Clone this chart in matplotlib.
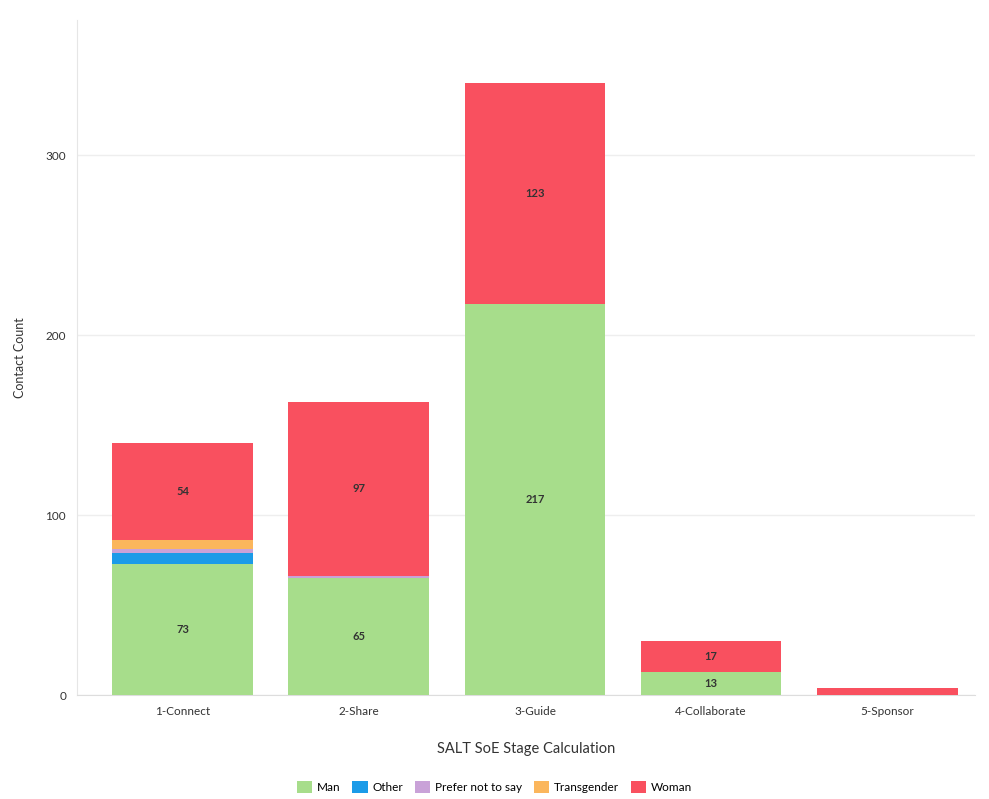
import matplotlib
matplotlib.use("Agg")
import matplotlib.pyplot as plt
import numpy as np

plt.rcParams['font.family'] = ['Lato', 'DejaVu Sans']

stages = ["1-Connect", "2-Share", "3-Guide", "4-Collaborate", "5-Sponsor"]
genders = ["Man", "Other", "Prefer not to say", "Transgender", "Woman"]
man = [73, 65, 217, 13, 0]
other = [6, 0, 0, 0, 0]
prefer_not = [2, 1, 0, 0, 0]
transgender = [5, 0, 0, 0, 0]
woman = [54, 97, 123, 17, 4]
colors = ["#a7dd8b", "#1b9be8", "#c9a2d8", "#fbb65c", "#f9505f"]

series = [man, other, prefer_not, transgender, woman]

fig = plt.figure(figsize=(9.89, 7.99), dpi=100)
ax = fig.add_axes([0.078, 0.130, 0.908, 0.845])

x = np.arange(len(stages))
bottom = np.zeros(len(stages))
for name, vals, col in zip(genders, series, colors):
    vals = np.array(vals, dtype=float)
    ax.bar(x, vals, width=0.8, bottom=bottom, color=col, label=name, zorder=3)
    # value labels only on the bigger segments
    for xi, v, b in zip(x, vals, bottom):
        if v >= 10:
            ax.text(xi, b + v / 2, f"{int(v)}", ha="center", va="center",
                    fontsize=8, color="#333333", fontweight="bold", zorder=4)
    bottom += vals

ax.set_xlim(-0.6, 4.5)
ax.set_ylim(0, 375)
ax.set_yticks([0, 100, 200, 300])
ax.set_xticks(x)
ax.set_xticklabels(stages)
ax.tick_params(axis="both", length=0, labelsize=8.5, colors="#333333", pad=8)
ax.grid(axis="y", color="#eeeeee", linewidth=1, zorder=0)

for side in ["top", "right"]:
    ax.spines[side].set_visible(False)
ax.spines["left"].set_color("#e6e6e6")
ax.spines["bottom"].set_color("#dddddd")

ax.set_xlabel("SALT SoE Stage Calculation", fontsize=10.5, color="#333333", labelpad=18)
ax.set_ylabel("Contact Count", fontsize=9, color="#333333", labelpad=14)

handles, labels = ax.get_legend_handles_labels()
fig.legend(handles, labels, loc="center", bbox_to_anchor=(0.5, 0.015), ncol=5,
           frameon=False, fontsize=8.5, handlelength=1.3, handleheight=1.3,
           handletextpad=0.4, columnspacing=1.0)

fig.savefig("out.png", dpi=100)
